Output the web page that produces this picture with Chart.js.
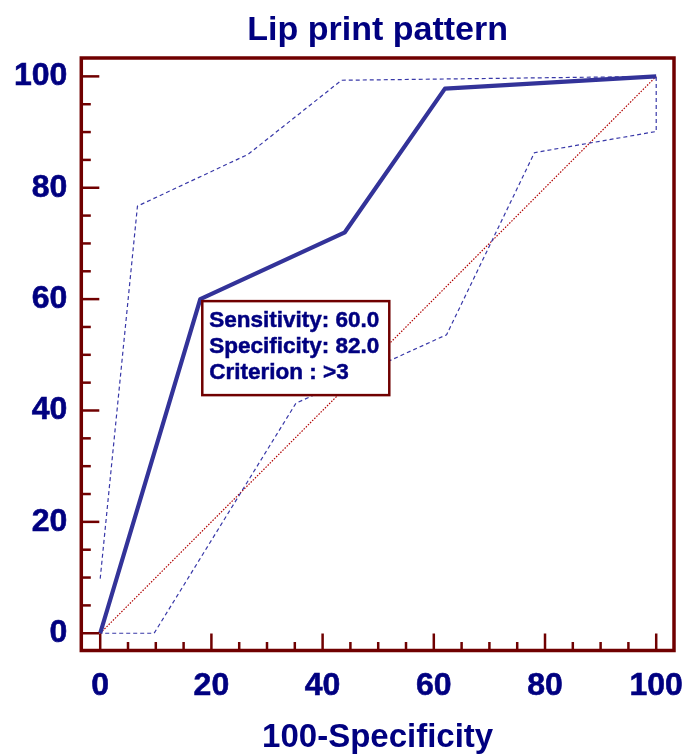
<!DOCTYPE html>
<html>
<head>
<meta charset="utf-8">
<script src="https://cdn.jsdelivr.net/npm/chart.js@4/dist/chart.umd.min.js"></script>
<style>
  html, body { margin: 0; padding: 0; background: #ffffff; }
  #wrap { width: 688px; height: 755px; }
</style>
</head>
<body>
<div id="wrap"><canvas id="c" width="688" height="755"></canvas></div>
<script>
// ---- data ----
const chartTitle = 'Lip print pattern';
const xAxisTitle = '100-Specificity';
const majorTicks = [0, 20, 40, 60, 80, 100];
const minorTicks = [5, 10, 15, 25, 30, 35, 45, 50, 55, 65, 70, 75, 85, 90, 95];

// ROC curve (100-Specificity, Sensitivity)
const rocX = [0, 18, 44, 62, 100];
const rocY = [0, 60, 72, 97.8, 100];

// 95% confidence band (upper then lower, one dashed polyline)
const bandX = [0, 6.7, 26.6, 43.4, 100, 100, 78.1, 62.3, 35.2, 9.7, 0];
const bandY = [9.8, 76.7, 86.0, 99.3, 100, 90.1, 86.3, 53.6, 41.3, 0, 0];

// reference diagonal
const diagX = [0, 100];
const diagY = [0, 100];

// criterion box
const boxPoint = { x: 18, y: 60 };
const boxLines = ['Sensitivity: 60.0', 'Specificity: 82.0', 'Criterion : >3'];

// ---- styling ----
const NAVY = '#000080';
const MAROON = '#700000';
const ROC_COLOR = '#333399';
const FONT = "'Liberation Sans', Arial, Helvetica, sans-serif";

const toPts = (xs, ys) => xs.map((x, i) => ({ x: x, y: ys[i] }));

const framePlugin = {
  id: 'frame',
  afterDatasetsDraw(chart) {
    const { ctx, chartArea: a, scales } = chart;
    const xs = scales.x, ys = scales.y;
    ctx.save();
    ctx.strokeStyle = MAROON;
    ctx.lineCap = 'butt';
    // ticks (inward)
    ctx.lineWidth = 2.5;
    const drawX = (v, len) => {
      const px = xs.getPixelForValue(v);
      ctx.beginPath(); ctx.moveTo(px, a.bottom); ctx.lineTo(px, a.bottom - len); ctx.stroke();
    };
    const drawY = (v, len) => {
      const py = ys.getPixelForValue(v);
      ctx.beginPath(); ctx.moveTo(a.left, py); ctx.lineTo(a.left + len, py); ctx.stroke();
    };
    majorTicks.forEach(v => { drawX(v, 17); drawY(v, 18); });
    minorTicks.forEach(v => { drawX(v, 8.5); drawY(v, 9.5); });
    // frame
    ctx.lineWidth = 3.5;
    ctx.strokeRect(a.left, a.top, a.right - a.left, a.bottom - a.top);

    // criterion box anchored at the criterion point
    const bx = xs.getPixelForValue(boxPoint.x) + 2;
    const by = ys.getPixelForValue(boxPoint.y) + 2;
    const bw = 187, bh = 94;
    ctx.fillStyle = '#ffffff';
    ctx.fillRect(bx, by, bw, bh);
    ctx.lineWidth = 2.5;
    ctx.strokeStyle = MAROON;
    ctx.strokeRect(bx, by, bw, bh);
    ctx.fillStyle = NAVY;
    ctx.strokeStyle = NAVY;
    ctx.lineWidth = 0.5;
    ctx.font = 'bold 22.5px ' + FONT;
    ctx.textAlign = 'left';
    ctx.textBaseline = 'alphabetic';
    boxLines.forEach((t, i) => {
      ctx.fillText(t, bx + 7, by + 25.5 + i * 26.2);
      ctx.strokeText(t, bx + 7, by + 25.5 + i * 26.2);
    });
    ctx.restore();
  }
};

new Chart(document.getElementById('c'), {
  type: 'scatter',
  data: {
    datasets: [
      {
        data: toPts(diagX, diagY), showLine: true, borderColor: '#b00000',
        borderWidth: 1.2, borderDash: [1.5, 1.5], pointRadius: 0, fill: false, order: 3
      },
      {
        data: toPts(bandX, bandY), showLine: true, borderColor: '#3838a8',
        borderWidth: 1.2, borderDash: [4, 3], pointRadius: 0, fill: false, order: 2
      },
      {
        data: toPts(rocX, rocY), showLine: true, borderColor: ROC_COLOR,
        borderWidth: 4.2, pointRadius: 0, fill: false, order: 1, borderJoinStyle: 'round'
      }
    ]
  },
  options: {
    responsive: false,
    animation: false,
    devicePixelRatio: 1,
    layout: { padding: { left: 0, right: 14, top: 0, bottom: 0 } },
    plugins: {
      legend: { display: false },
      tooltip: { enabled: false },
      title: {
        display: true, text: chartTitle, color: NAVY, fullSize: false,
        font: { family: FONT, size: 34, weight: 'bold' },
        padding: { top: 10, bottom: 7.2 }
      }
    },
    scales: {
      x: {
        type: 'linear', min: -3.4, max: 103.2,
        grid: { display: false, drawTicks: false },
        border: { display: false },
        afterBuildTicks: s => { s.ticks = majorTicks.map(v => ({ value: v })); },
        afterFit: s => { s.height = 104.5; s.paddingLeft = 0; s.paddingRight = 0; },
        ticks: {
          color: NAVY, padding: 16, maxRotation: 0,
          textStrokeColor: NAVY, textStrokeWidth: 0.6,
          font: { family: FONT, size: 32, weight: 'bold' }
        },
        title: {
          display: true, text: xAxisTitle, color: NAVY,
          font: { family: FONT, size: 33, weight: 'bold' },
          padding: { top: 0, bottom: -3 }
        }
      },
      y: {
        type: 'linear', min: -3.1, max: 103.3,
        grid: { display: false, drawTicks: false },
        border: { display: false },
        afterBuildTicks: s => { s.ticks = majorTicks.map(v => ({ value: v })); },
        afterFit: s => { s.width = 81.3; s.paddingTop = 0; s.paddingBottom = 0; },
        ticks: {
          color: NAVY, padding: 14,
          textStrokeColor: NAVY, textStrokeWidth: 0.6,
          font: { family: FONT, size: 32, weight: 'bold' }
        }
      }
    }
  },
  plugins: [framePlugin]
});
</script>
</body>
</html>
